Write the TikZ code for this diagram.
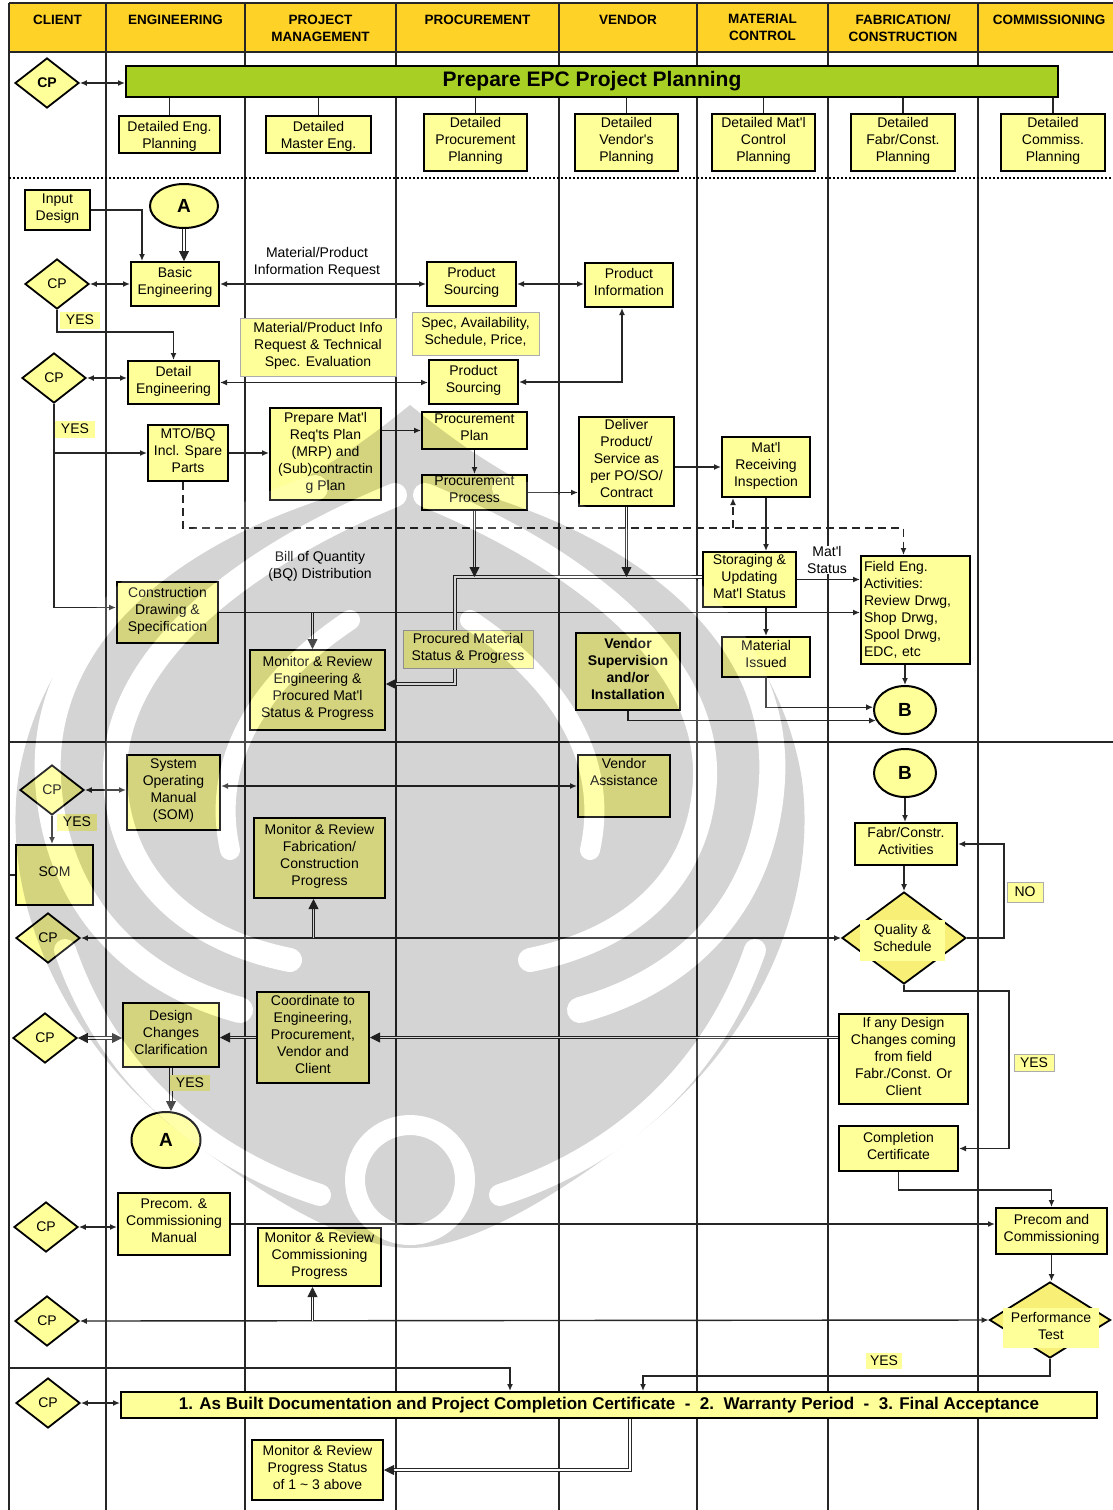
\documentclass[tikz,border=0pt]{standalone}
\usepackage{fontspec}
\setmainfont{Liberation Sans}[Ligatures=TeXOff]
\usetikzlibrary{shapes.geometric,arrows.meta,calc}
\definecolor{hdr}{RGB}{255,210,40}
\definecolor{pale}{RGB}{255,255,153}
\definecolor{diafill}{RGB}{248,240,118}
\definecolor{barg}{RGB}{168,208,36}
\newcommand\fs{\fontsize{14}{17}\selectfont}
\newcommand\fh{\bfseries\fontsize{13.5}{17}\selectfont}
\pgfdeclarelayer{lanes}
\pgfdeclarelayer{wires}
\pgfdeclarelayer{emblem}
\pgfsetlayers{lanes,wires,main,emblem}
\begin{document}
\begin{tikzpicture}[x=1pt,y=-1pt,
  wh/.style 2 args={minimum width=#1pt, minimum height=#2pt},
  boxb/.style={draw, line width=2pt, fill=pale, align=center, inner sep=1pt, font=\fs},
  box/.style={boxb, text depth=6pt},
  lbl/.style={draw=gray!65, line width=0.9pt, fill=pale, align=center, inner sep=1pt, font=\fs, text depth=5pt},
  ytag/.style={fill=pale, inner sep=1pt, font=\fs, minimum width=40pt, minimum height=17pt},
  ytagb/.style={ytag, draw=gray!65, line width=0.9pt},
  plain/.style={align=center, inner sep=0pt, font=\fs},
  cp/.style={diamond, draw, line width=1.8pt, fill=pale, minimum width=64pt, minimum height=50pt, inner sep=0pt, font=\fs},
  dia/.style={diamond, draw, line width=1.8pt, fill=diafill, inner sep=0pt},
  oval/.style={ellipse, draw, line width=2pt, fill=pale, inner sep=0pt, font=\bfseries\fontsize{19}{19}\selectfont},
  lane/.style={line width=1.8pt, draw=black!85},
  wire/.style={line width=1.4pt, draw=black!85},
  arr/.style={wire, -{Latex[length=7pt,width=6pt]}},
  barr/.style={wire, {Latex[length=7pt,width=6pt]}-{Latex[length=7pt,width=6pt]}},
  dsh/.style={arr, dash pattern=on 8pt off 5pt},
  dbl/.style={draw=black!85, line width=0.8pt, double=white, double distance=1.8pt, -{Triangle[length=10pt,width=10pt]}},
  bdbl/.style={dbl, {Triangle[length=10pt,width=10pt]}-{Triangle[length=10pt,width=10pt]}},
  band/.style={draw=white, line width=#1pt, line cap=round}
]
\useasboundingbox (0,0) rectangle (1113,1510);

% ---------- swimlane frame ----------
\begin{pgfonlayer}{lanes}
  \fill[white] (0,0) rectangle (1113,1510);
  \fill[hdr] (9,3) rectangle (1113,52);
  \draw[lane] (9,3) -- (1113,3);
  \draw[lane] (9,52) -- (1113,52);
  \foreach \x in {9,106,245,396,559,697,828,978}
    \draw[lane] (\x,3) -- (\x,1510);
  \draw[line width=2pt, dash pattern=on 2pt off 2pt] (9,178) -- (1113,178);
  \draw[lane] (9,742) -- (1113,742);
\end{pgfonlayer}

% ---------- lane titles ----------
\begin{scope}[every node/.style={anchor=north, align=center, inner sep=0pt, font=\fh}]
  \node (hClient) at (57.5,14.5) {CLIENT};
  \node (hEng)    at (175.5,14.5) {ENGINEERING};
  \node (hPM)     at (320.5,14.5) {PROJECT\\MANAGEMENT};
  \node (hProc)   at (477.5,14.5) {PROCUREMENT};
  \node (hVend)   at (628,14.5) {VENDOR};
  \node (hMat)    at (762.5,14.5) {MATERIAL\\CONTROL};
  \node (hFab)    at (903,14.5) {FABRICATION/\\CONSTRUCTION};
  \node (hComm)   at (1049,14.5) {COMMISSIONING};
\end{scope}

% ---------- planning ----------
\node[cp, font=\bfseries\fontsize{14}{17}\selectfont] (cp1) at (47,83) {CP};
\node[draw, line width=2pt, fill=barg, wh={932}{31}, inner sep=0pt,
      font=\bfseries\fontsize{21}{21}\selectfont] (bar) at (592,81.5) {Prepare EPC Project Planning};
\node[boxb, wh={101}{37}, text depth=0pt] (dEng)    at (169.5,134.5) {Detailed Eng.\\Planning};
\node[boxb, wh={105}{37}, text depth=0pt] (dMaster) at (318.5,134.5) {Detailed\\Master Eng.};
\node[box, wh={103}{57}] (dProc)   at (475.5,142.5) {Detailed\\Procurement\\Planning};
\node[box, wh={103}{57}] (dVend)   at (626.5,142.5) {Detailed\\Vendor's\\Planning};
\node[box, wh={103}{57}] (dMat)    at (763.5,142.5) {Detailed Mat'l\\Control\\Planning};
\node[box, wh={104}{57}] (dFab)    at (903,142.5) {Detailed\\Fabr/Const.\\Planning};
\node[box, wh={104}{57}] (dComm)   at (1053,142.5) {Detailed\\Commiss.\\Planning};

% ---------- engineering and procurement ----------
\node[box, wh={65}{40}] (inDes) at (57.5,210) {Input\\Design};
\node[oval, wh={68}{44}] (A1) at (184,206) {A};
\node[box, wh={88}{44}] (basic) at (175,284) {Basic\\Engineering};
\node[cp] (cp2) at (57,284) {CP};
\node[ytag] (yes1) at (80,320) {YES};
\node[box, wh={91}{43}] (detail) at (173.5,382.5) {Detail\\Engineering};
\node[cp] (cp3) at (54,378) {CP};
\node[ytag] (yes2) at (75,429) {YES};
\node[plain] (reqTxt) at (317,262) {Material/Product\\Information Request};
\node[box, wh={89}{44}] (ps1) at (471.5,284) {Product\\Sourcing};
\node[box, wh={88}{44}] (pinfo) at (629,285) {Product\\Information};
\node[lbl, wh={127}{43}] (spec) at (475.5,333.5) {Spec, Availability,\\Schedule, Price,};
\node[lbl, wh={156}{58}] (mpinfo) at (318,347) {Material/Product Info\\Request \& Technical\\Spec. Evaluation};
\node[box, wh={89}{44}] (ps2) at (473.5,382) {Product\\Sourcing};
\node[box, wh={80}{56}] (mto) at (188,453) {MTO/BQ\\Incl. Spare\\Parts};
\node[box, wh={111}{92}] (prep) at (325.5,454) {Prepare Mat'l\\Req'ts Plan\\(MRP) and\\(Sub)contractin\\g Plan};
\node[box, wh={105}{37}] (pplan) at (474.5,430.5) {Procurement\\Plan};
\node[box, wh={105}{35}] (pproc) at (474.5,492.5) {Procurement\\Process};
\node[box, wh={95}{89}] (deliver) at (626.5,461.5) {Deliver\\Product/\\Service as\\per PO/SO/\\Contract};
\node[box, wh={88}{60}] (recv) at (766,467) {Mat'l\\Receiving\\Inspection};
\node[box, wh={93}{55}] (stor) at (749.5,579.5) {Storaging \&\\Updating\\Mat'l Status};
\node[plain, fill=white] (statTxt) at (827,560) {Mat'l\\Status};
\node[boxb, wh={109}{108}, text width=103pt, align=left, inner sep=2pt] (field) at (915.5,610)
  {Field Eng.\\Activities:\\Review Drwg,\\Shop Drwg,\\Spool Drwg,\\EDC, etc};
\node[box, wh={88}{40}] (issued) at (766,657) {Material\\Issued};
\node[oval, wh={62}{48}] (B1) at (905,710) {B};
\node[box, wh={101}{61}] (constr) at (167.5,612.5) {Construction\\Drawing \&\\Specification};
\node[plain] (boqTxt) at (320,566) {Bill of Quantity\\(BQ) Distribution};
\node[box, wh={135}{80}] (monEng) at (317.5,690) {Monitor \& Review\\Engineering \&\\Procured Mat'l\\Status \& Progress};
\node[lbl, wh={130}{38}] (procured) at (468,649) {Procured Material\\Status \& Progress};
\node[box, wh={104}{77}, font=\bfseries\fontsize{14}{17}\selectfont] (vsup) at (628,671.5) {Vendor\\Supervision\\and/or\\Installation};

% ---------- fabrication and construction ----------
\node[cp] (cp4) at (52,790) {CP};
\node[box, wh={93}{75}] (somM) at (173.5,792.5) {System\\Operating\\Manual\\(SOM)};
\node[box, wh={92}{62}, text depth=29pt] (vassist) at (624,786) {Vendor\\Assistance};
\node[ytag] (yes3) at (77,822) {YES};
\node[box, wh={77}{60}] (som) at (54.5,875) {SOM};
\node[box, wh={131}{80}] (monFab) at (319.5,858) {Monitor \& Review\\Fabrication/\\Construction\\Progress};
\node[cp] (cp5) at (48,938) {CP};
\node[oval, wh={62}{48}] (B2) at (905,773) {B};
\node[box, wh={102}{42}] (fabr) at (906,844) {Fabr/Constr.\\Activities};
\node[dia, wh={124}{92}] (qual) at (904,938) {};
\node[fill=pale, wh={85}{41}, inner sep=0pt, align=center, font=\fs, text depth=5pt] (qualtxt) at (902.5,940.5) {Quality \&\\Schedule};
\node[ytagb, minimum width=36pt, minimum height=20pt] (no) at (1025,892) {NO};
\node[ytagb] (yes4) at (1034,1063) {YES};
\node[cp] (cpd) at (45,1038) {CP};
\node[box, wh={96}{64}] (dcc) at (171,1035) {Design\\Changes\\Clarification};
\node[box, wh={112}{91}] (coord) at (313,1037.5) {Coordinate to\\Engineering,\\Procurement,\\Vendor and\\Client};
\node[ytag, minimum height=16pt] (yes5) at (190,1083) {YES};
\node[oval, wh={69}{56}] (A2) at (166,1140) {A};
\node[box, wh={129}{90}] (ifany) at (903.5,1059) {If any Design\\Changes coming\\from field\\Fabr./Const. Or\\Client};
\node[box, wh={119}{45}] (compl) at (898.5,1148.5) {Completion\\Certificate};

% ---------- commissioning and close-out ----------
\node[box, wh={112}{62}] (precomM) at (174,1224) {Precom. \&\\Commissioning\\Manual};
\node[cp] (cp6) at (46,1227) {CP};
\node[box, wh={123}{58}] (monComm) at (319.5,1257) {Monitor \& Review\\Commissioning\\Progress};
\node[box, wh={111}{46}] (precom) at (1051.5,1231) {Precom and\\Commissioning};
\node[dia, wh={121}{76}] (perf) at (1050,1320) {};
\node[fill=pale, wh={96}{40}, inner sep=0pt, align=center, font=\fs, text depth=5pt] (perftxt) at (1051,1328) {Performance\\Test};
\node[cp] (cp7) at (47,1321) {CP};
\node[ytag, minimum width=36pt, minimum height=16pt] (yes6) at (884,1361) {YES};
\node[draw, line width=2pt, fill=pale, wh={976}{26}, inner sep=0pt,
      font=\bfseries\fontsize{17}{17}\selectfont] (bar2) at (609,1405)
  {1. As Built Documentation and Project Completion Certificate\ \ -\ \ 2.\ \ Warranty Period\ \ -\ \ 3. Final Acceptance};
\node[cp] (cp8) at (48,1403) {CP};
\node[box, wh={131}{60}] (monProg) at (317.5,1470) {Monitor \& Review\\Progress Status\\of 1 \textasciitilde{} 3 above};

% ---------- connectors ----------
\begin{pgfonlayer}{wires}
  \draw[barr] (cp1.east) -- (bar.west |- cp1.east);
  \foreach \n in {dEng,dMaster,dProc,dVend,dMat,dFab,dComm}
    \draw[wire] (bar.south -| \n.north) -- (\n.north);

  \coordinate (inB) at ([xshift=-33pt]basic.north);
  \draw[arr] (inDes.east) -| (inB);
  \draw[dbl] (A1.south) -- (A1.south |- basic.north);
  \draw[barr] (cp2.east) -- (basic.west);
  \draw[arr] (cp2.south) -- ++(0,22) -| (detail.north);
  \draw[barr] (basic.east) -- (ps1.west);
  \draw[barr] (ps1.east) -- (pinfo.west |- ps1.east);
  \draw[barr] (detail.east) -- (ps2.west |- detail.east);
  \coordinate (piB) at ([xshift=-7pt]pinfo.south);
  \draw[barr] (ps2.east) -| (piB);
  \draw[barr] (cp3.east) -- (detail.west |- cp3.east);
  \coordinate (cdW) at ([yshift=5pt]constr.west);
  \draw[arr] (cp3.south) |- (cdW);
  \draw[arr] (cp3.south |- mto.west) -- (mto.west);
  \draw[arr] (mto.east) -- (prep.west |- mto.east);
  \draw[arr] (prep.east |- pplan.west) -- (pplan.west);
  \draw[arr] (pplan.south) -- (pproc.north);
  \draw[arr] (pproc.east) -- (deliver.west |- pproc.east);
  \draw[arr] (deliver.east |- recv.west) -- (recv.west);

  \coordinate (mtoB) at ([xshift=-5pt]mto.south);
  \coordinate (fldT) at ([xshift=-12pt]field.north);
  \coordinate (rcvB) at ([xshift=-33pt]recv.south);
  \path (mtoB) ++(0,46) coordinate (dk);
  \draw[dsh] (mtoB) -- (dk) -| (fldT);
  \draw[dsh] (dk -| rcvB) -- (rcvB);

  \draw[arr] (recv.south) -- (recv.south |- stor.north);
  \draw[arr] (stor.east) -- (field.west |- stor.east);
  \draw[arr] (issued.north |- stor.south) -- (issued.north);
  \draw[arr] (issued.south) |- (B1.175);
  \draw[arr] (B1.north |- field.south) -- (B1.north);
  \draw[arr] (vsup.south) |- (B1.200);
  \draw[arr] (constr.east) -- (field.west |- constr.east);

  \coordinate (meT) at ([xshift=-5pt]monEng.north);
  \draw[dbl] (meT |- constr.east) -- (meT);
  \coordinate (c1) at (455,577);
  \coordinate (meE) at ([yshift=6pt]monEng.east);
  \draw[dbl] (stor.west |- c1) -- (c1) |- (meE);
  \draw[dbl] (pproc.south) -- (pproc.south |- c1);
  \draw[dbl] (deliver.south) -- (deliver.south |- c1);

  \draw[barr] (cp4.east) -- (somM.west |- cp4.east);
  \draw[barr] (somM.east |- vassist.west) -- (vassist.west);
  \draw[arr] (cp4.south) -- (cp4.south |- som.north);
  \draw[wire] (som.west) -- ++(-7,0);
  \draw[barr] (cp5.east) -- (qual.west);
  \coordinate (mfB) at ([xshift=-6pt]monFab.south);
  \draw[dbl] (mfB |- qual.west) -- (mfB);
  \draw[arr] (B2.south) -- (B2.south |- fabr.north);
  \draw[arr] (qual.north |- fabr.south) -- (qual.north);
  \draw[arr] (qual.east) -- ++(37,0) |- (fabr.east);
  \coordinate (cmR) at ([xshift=50pt]compl.east);
  \draw[arr] (qual.south) -- ++(0,6) -| (cmR) |- (compl.east);
  \draw[dbl] (ifany.west |- coord.east) -- (coord.east);
  \draw[dbl] (coord.west) -- (dcc.east |- coord.west);
  \draw[bdbl] (cpd.east) -- (dcc.west |- cpd.east);
  \draw[dbl] (dcc.south) -- (dcc.south |- A2.north);

  \draw[arr] (compl.south) -- ++(0,18) -| (precom.north);
  \draw[arr] (precomM.east) -- (precom.west |- precomM.east);
  \draw[barr] (cp6.east) -- (precomM.west |- cp6.east);
  \draw[barr] (cp7.east) -- (perf.west);
  \coordinate (mcB) at ([xshift=-7pt]monComm.south);
  \draw[dbl] (mcB |- cp7.east) -- (mcB);
  \draw[arr] (precom.south) -- (perf.north -| precom.south);
  \coordinate (b2a) at ([xshift=34pt]bar2.north);
  \draw[arr] (perf.south) -- ++(0,17) -| (b2a);
  \coordinate (lb) at (9,1368);
  \coordinate (b2b) at ([xshift=-99pt]bar2.north);
  \draw[arr] (lb) -| (b2b);
  \draw[barr] (cp8.east) -- (bar2.west |- cp8.east);
  \coordinate (b2c) at ([xshift=21pt]bar2.south);
  \draw[dbl] (b2c) |- (monProg.east);
\end{pgfonlayer}

% ---------- faint grey emblem printed over the page ----------
\begin{pgfonlayer}{emblem}
\begin{scope}[transparency group, opacity=0.17]
  \fill[black] (410,405) .. controls (385,425) and (330,470) .. (260,500)
     .. controls (150,545) and (40,640) .. (18,780)
     .. controls (0,920) and (80,1060) .. (190,1140)
     .. controls (270,1200) and (350,1248) .. (410,1248)
     .. controls (470,1248) and (550,1200) .. (630,1140)
     .. controls (740,1060) and (820,920) .. (802,780)
     .. controls (780,640) and (670,545) .. (560,500)
     .. controls (490,470) and (435,425) .. (410,405) -- cycle;
  \foreach \s in {1,-1}{
    \begin{scope}[shift={(410,0)}, xscale=\s]
      \draw[band=26] (-95,488) .. controls (-250,540) and (-370,640) .. (-362,780)
                     .. controls (-355,900) and (-280,980) .. (-170,1010);
      \draw[band=24] (-15,495) .. controls (-150,550) and (-300,650) .. (-295,780)
                     .. controls (-290,880) and (-220,940) .. (-120,960);
      \draw[band=22] (-345,950) .. controls (-300,1080) and (-200,1160) .. (-90,1195);
      \draw[band=20] (-60,620) .. controls (-150,680) and (-200,760) .. (-180,850);
    \end{scope}}
  \draw[band=20] (410,1180) circle[radius=55];
\end{scope}
\end{pgfonlayer}
\end{tikzpicture}
\end{document}
